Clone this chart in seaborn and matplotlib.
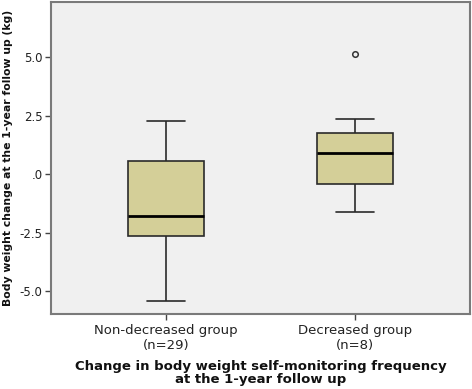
import numpy as np
import pandas as pd
import matplotlib
matplotlib.use("Agg")
import matplotlib.pyplot as plt
import seaborn as sns

# Summary values (kg)
categories = ["Non-decreased group\n(n=29)", "Decreased group\n(n=8)"]
# whisker low, Q1, median, Q3, whisker high
nondecreased_summary = [-5.41, -2.64, -1.79, 0.56, 2.28]
decreased_summary = [-1.64, -0.41, 0.91, 1.77, 2.36]
decreased_outliers = [5.13]
yticks = [-5.0, -2.5, 0.0, 2.5, 5.0]
ytick_labels = ["-5.0", "-2.5", ".0", "2.5", "5.0"]

# Build minimal samples reproducing those summaries
g1 = list(nondecreased_summary)  # n=5 -> quartiles at idx 1,3
d = decreased_summary
g2 = [d[0], d[1], d[1], d[2], d[2], d[3], d[3], d[4]] + decreased_outliers  # n=9
df = pd.DataFrame({
    "group": [categories[0]] * len(g1) + [categories[1]] * len(g2),
    "value": g1 + g2,
})

sns.set_theme(style="white")
plt.rcParams["font.family"] = ["DejaVu Sans"]

fig = plt.figure(figsize=(4.72, 3.89), dpi=100)
ax = fig.add_axes([51 / 472, 1 - 314 / 389, (470 - 51) / 472, (314 - 2) / 389])
ax.set_facecolor("#f0f0f0")

sns.boxplot(
    data=df, x="group", y="value", order=categories, ax=ax,
    width=0.4, color="#d4cf98", saturation=1, whis=1.5,
    linecolor="#2a2a2a", linewidth=1.2,
    medianprops=dict(color="black", linewidth=2),
    flierprops=dict(marker="o", markersize=4, markerfacecolor="none",
                    markeredgecolor="#333333", markeredgewidth=1.1),
)

ax.set_xlim(-0.61, 1.61)
ax.set_ylim(-5.98, 7.35)
ax.set_yticks(yticks)
ax.set_yticklabels(ytick_labels)
ax.tick_params(axis="both", direction="out", length=4, width=1, color="#444444",
               labelsize=8.5, labelcolor="#222222", bottom=True, left=True, pad=2)
ax.tick_params(axis="x", labelsize=9.5, pad=3)
for s in ax.spines.values():
    s.set_visible(True)
    s.set_color("#7a7a7a")
    s.set_linewidth(1.5)

ax.set_ylabel("Body weight change at the 1-year follow up (kg)", fontsize=7.8,
              fontweight="bold", color="#111111", labelpad=5)
ax.set_xlabel("Change in body weight self-monitoring frequency\nat the 1-year follow up",
              fontsize=9.5, fontweight="bold", color="#111111", labelpad=6,
              linespacing=0.95)

fig.savefig("out.png", dpi=100, facecolor="white")
